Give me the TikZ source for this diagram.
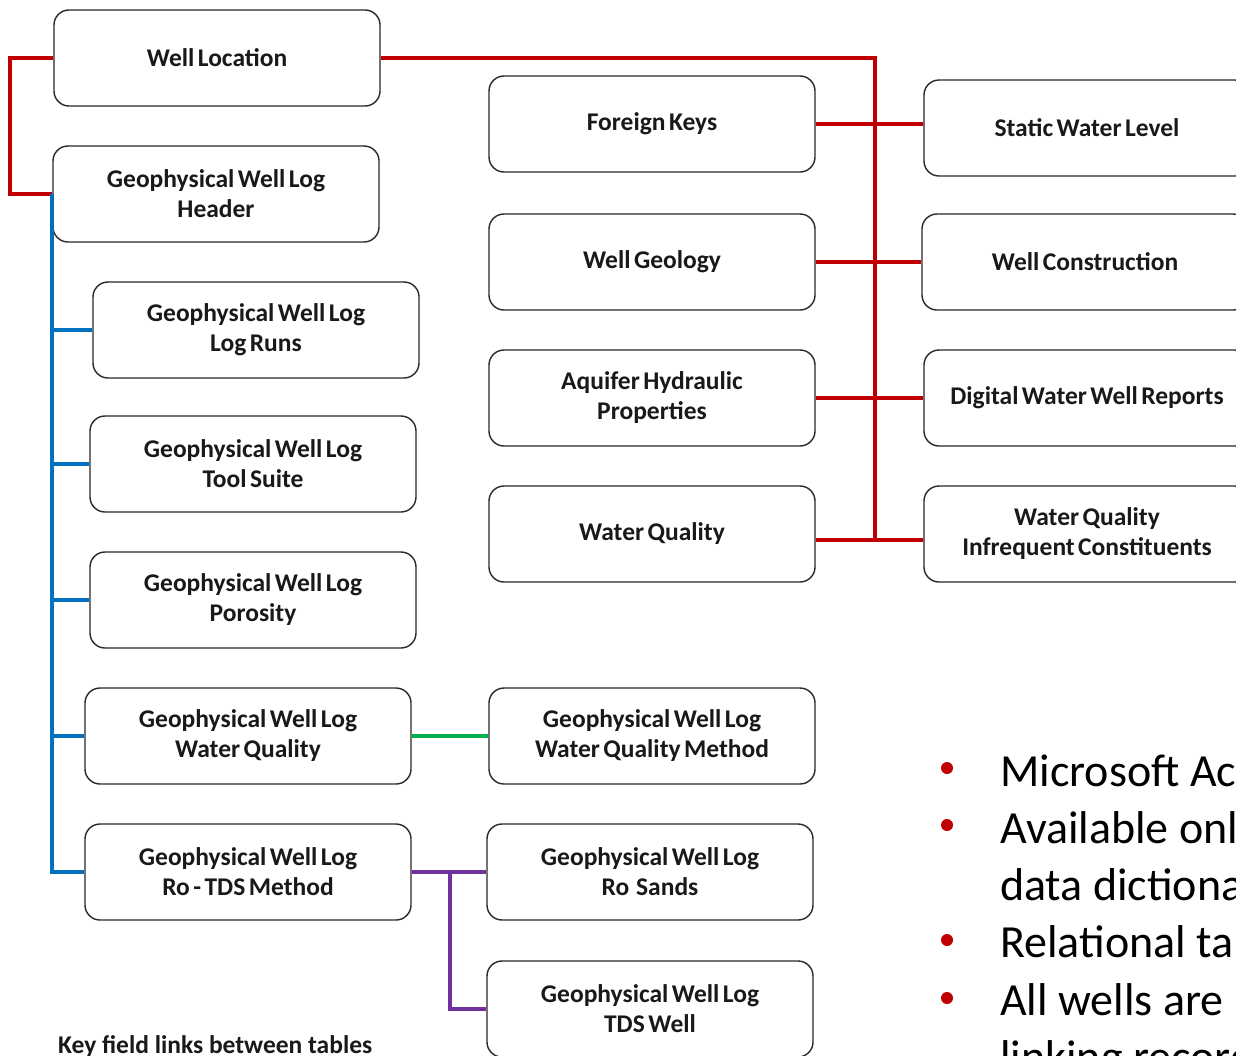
\documentclass[tikz,border=0pt]{standalone}
\usepackage{fontspec}
\setmainfont{Carlito}
\newfontfamily\boxfont{Carlito}[WordSpace=0.6]
\definecolor{redl}{RGB}{192,0,0}
\definecolor{bluel}{RGB}{0,112,192}
\definecolor{greenl}{RGB}{0,176,80}
\definecolor{purplel}{RGB}{112,48,160}
\definecolor{boxline}{RGB}{40,40,40}
\definecolor{txt}{RGB}{25,25,25}
\begin{document}
\begin{tikzpicture}[x=1pt,y=-1pt,
  tbl/.style={draw=boxline, line width=1.4pt, rounded corners=15pt, fill=white,
    minimum width=326pt, minimum height=96pt, align=center, inner sep=0pt,
    text=txt, font=\boxfont\bfseries\fontsize{25.5}{30}\selectfont},
  redc/.style={draw=redl, line width=4pt},
  bluec/.style={draw=bluel, line width=4pt},
  greenc/.style={draw=greenl, line width=4pt},
  purplec/.style={draw=purplel, line width=4pt},
  bullettext/.style={anchor=base west, inner sep=0pt, text=black,
    font=\fontsize{46}{57}\selectfont},
  bulletdot/.style={fill=redl}]
\useasboundingbox (0,0) rectangle (1236,1055);
\clip (0,0) rectangle (1236,1055);
\fill[white] (0,0) rectangle (1236,1055);

% left column
\node[tbl] (wl)  at (217,58)  {Well Location};
\node[tbl] (hdr) at (216,194) {Geophysical Well Log\\Header};
\node[tbl] (lr)  at (256,330) {Geophysical Well Log\\Log Runs};
\node[tbl] (ts)  at (253,464) {Geophysical Well Log\\Tool Suite};
\node[tbl] (por) at (253,600) {Geophysical Well Log\\Porosity};
\node[tbl] (gwq) at (248,736) {Geophysical Well Log\\Water Quality};
\node[tbl] (rtd) at (248,872) {Geophysical Well Log\\Ro - TDS Method};

% middle column
\node[tbl] (fk)  at (652,124) {Foreign Keys};
\node[tbl] (wg)  at (652,262) {Well Geology};
\node[tbl] (ahp) at (652,398) {Aquifer Hydraulic\\Properties};
\node[tbl] (wq)  at (652,534) {Water Quality};
\node[tbl] (wqm) at (652,736) {Geophysical Well Log\\Water Quality Method};
\node[tbl] (ros) at (650,872) {Geophysical Well Log\\Ro~~Sands};
\node[tbl] (tds) at (650,1009) {Geophysical Well Log\\TDS Well};

% right column
\node[tbl] (swl)  at (1087,128) {Static Water Level};
\node[tbl] (wc)   at (1085,262) {Well Construction};
\node[tbl] (dwwr) at (1087,398) {Digital Water Well Reports};
\node[tbl] (wqic) at (1087,534) {Water Quality\\Infrequent Constituents};

% red links
\coordinate (rbot) at (875,540);
\draw[redc] (wl.west) -- ++(-43,0) |- (hdr.west);
\draw[redc] (wl.east) -| (rbot);
\draw[redc] (fk.east) -- (fk.east -| swl.west);
\draw[redc] (wg.east) -- (wg.east -| wc.west);
\draw[redc] (ahp.east) -- (ahp.east -| dwwr.west);
\draw[redc] (wq.east |- rbot) -- (wq.east |- rbot -| wqic.west);

% blue links
\draw[bluec] (hdr.west) |- (rtd.west);
\draw[bluec] (lr.west) -- (lr.west -| hdr.west);
\draw[bluec] (ts.west) -- (ts.west -| hdr.west);
\draw[bluec] (por.west) -- (por.west -| hdr.west);
\draw[bluec] (gwq.west) -- (gwq.west -| hdr.west);

% green link
\draw[greenc] (gwq.east) -- (wqm.west);

% purple links
\coordinate (pj) at (450,872);
\draw[purplec] (rtd.east) -- (ros.west);
\draw[purplec] (pj) |- (tds.west);

% caption
\node[anchor=base west, inner sep=0pt, text=txt,
  font=\bfseries\fontsize{25.5}{30}\selectfont] (cap) at (58,1053) {Key field links between tables};

% bullets
\fill[bulletdot] (947,768) circle (6);
\fill[bulletdot] (947,825) circle (6);
\fill[bulletdot] (947,940) circle (6);
\fill[bulletdot] (947,998) circle (6);
\node[bullettext] (t1) at (1000,786) {Microsoft Access database};
\node[bullettext] (t2) at (1000,843) {Available online with};
\node[bullettext] (t3) at (1000,900) {data dictionary};
\node[bullettext] (t4) at (1000,957) {Relational tables};
\node[bullettext] (t5) at (1000,1015) {All wells are linked};
\node[bullettext] (t6) at (1000,1072) {linking records};
\end{tikzpicture}
\end{document}
